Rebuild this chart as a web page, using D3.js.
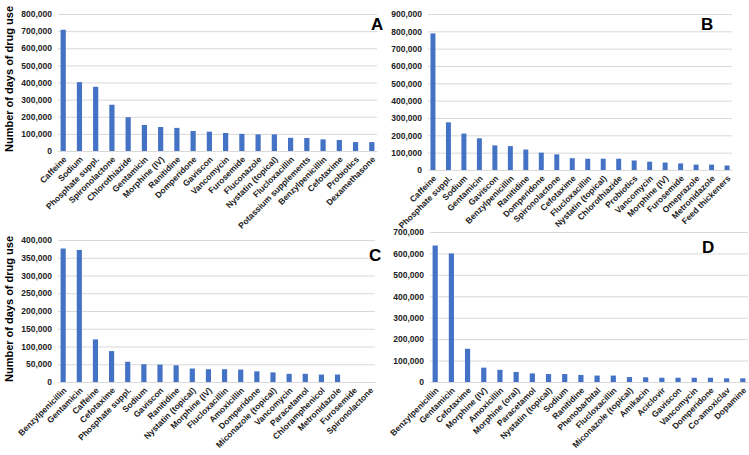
<!DOCTYPE html>
<html><head><meta charset="utf-8">
<script src="https://cdn.jsdelivr.net/npm/d3@7"></script>
<style>
body{margin:0;background:#fff;}
svg{display:block;font-family:"Liberation Sans",Arial,sans-serif;}
</style></head>
<body><svg id="c" width="749" height="455"></svg>
<script>
const catsA = ["Caffeine","Sodium","Phosphate suppl.","Spironolactone","Chlorothiazide","Gentamicin","Morphine (IV)","Ranitidine","Domperidone","Gaviscon","Vancomycin","Furosemide","Fluconazole","Nystatin (topical)","Flucloxacillin","Potassium supplements","Benzylpenicillin","Cefotaxime","Probiotics","Dexamethasone"];
const valsA = [708000,402000,375000,270000,197000,152000,140000,135000,117000,113000,105000,100000,97000,97000,77000,76000,68000,64000,52000,52000];
const ticksA = [0,100000,200000,300000,400000,500000,600000,700000,800000];

const catsB = ["Caffeine","Phosphate suppl.","Sodium","Gentamicin","Gaviscon","Benzylpenicillin","Ranitidine","Domperidone","Spironolactone","Cefotaxime","Flucloxacillin","Nystatin (topical)","Chlorothiazide","Probiotics","Vancomycin","Morphine (IV)","Furosemide","Omeprazole","Metronidazole","Feed thickeners"];
const valsB = [788000,275000,210000,183000,142000,138000,118000,100000,90000,68000,65000,65000,65000,55000,48000,43000,38000,31000,31000,26000];
const ticksB = [0,100000,200000,300000,400000,500000,600000,700000,800000,900000];

const catsC = ["Benzylpenicillin","Gentamicin","Caffeine","Cefotaxime","Phosphate suppl.","Sodium","Gaviscon","Ranitidine","Nystatin (topical)","Morphine (IV)","Flucloxacillin","Amoxicillin","Domperidone","Miconazole (topical)","Vancomycin","Paracetamol","Chloramphenicol","Metronidazole","Furosemide","Spironolactone"];
const valsC = [376000,372000,120000,87000,57000,50000,49000,47000,38000,36000,36000,35000,30000,27000,23000,23000,21000,21000,0,0];
const ticksC = [0,50000,100000,150000,200000,250000,300000,350000,400000];

const catsD = ["Benzylpenicillin","Gentamicin","Cefotaxime","Morphine (IV)","Amoxicillin","Morphine (oral)","Paracetamol","Nystatin (topical)","Sodium","Ranitidine","Phenobarbital","Flucloxacillin","Miconazole (topical)","Amikacin","Aciclovir","Gaviscon","Vancomycin","Domperidone","Co-amoxiclav","Dopamine"];
const valsD = [637000,600000,155000,67000,57000,47000,40000,37000,37000,33000,30000,30000,23000,22000,20000,20000,20000,20000,17000,17000];
const ticksD = [0,100000,200000,300000,400000,500000,600000,700000];

const svg = d3.select("#c");
const fmt = d3.format(",");
const barColor = "#4472C4";

function panel(cats, vals, ticks, x0, x1, yTop, yBot, letter, lx, ly) {
  const g = svg.append("g");
  const x = d3.scaleBand().domain(cats).range([x0, x1]).paddingInner(0.68).paddingOuter(0.16);
  const y = d3.scaleLinear().domain([0, ticks[ticks.length-1]]).range([yBot, yTop]);
  const yAxis = d3.axisLeft(y).tickValues(ticks).tickFormat(fmt).tickSize(-(x1 - x0)).tickPadding(6);
  const ga = g.append("g").attr("transform", `translate(${x0},0)`).call(yAxis);
  ga.select(".domain").remove();
  ga.selectAll(".tick line").attr("stroke", "#d9d9d9").attr("stroke-width", 1);
  ga.selectAll(".tick text").attr("font-size", "8.5px").attr("font-weight", "bold").attr("fill", "#222");
  g.selectAll("rect.bar").data(vals).enter().append("rect")
    .attr("class", "bar")
    .attr("x", (d, i) => x(cats[i]))
    .attr("width", x.bandwidth())
    .attr("y", d => y(d))
    .attr("height", d => y(0) - y(d))
    .attr("fill", barColor);
  const xAxis = d3.axisBottom(x).tickSize(0).tickPadding(0);
  const gx = g.append("g").attr("transform", `translate(0,${yBot})`).call(xAxis);
  gx.select(".domain").attr("stroke", "#d9d9d9");
  gx.selectAll(".tick text")
    .attr("font-size", "8.5px").attr("font-weight", "bold").attr("fill", "#222")
    .attr("text-anchor", "end")
    .attr("dy", null).attr("y", 0)
    .attr("transform", "translate(4,9) rotate(-45)");
  svg.append("text").attr("x", lx).attr("y", ly).attr("font-size", "17px").attr("font-weight", "bold")
    .attr("fill", "#000").text(letter);
}

panel(catsA, valsA, ticksA, 58, 377, 14, 151, "A", 371, 30);
panel(catsB, valsB, ticksB, 428, 732, 14, 170, "B", 701, 30);
panel(catsC, valsC, ticksC, 58, 375, 240, 382, "C", 369, 261);
panel(catsD, valsD, ticksD, 430, 748, 232, 382, "D", 702, 253);

function ytitle(cy) {
  svg.append("text").attr("transform", `translate(13,${cy}) rotate(-90)`)
    .attr("text-anchor", "middle").attr("font-size", "11px").attr("font-weight", "bold")
    .attr("fill", "#000").text("Number of days of drug use");
}
ytitle(79);
ytitle(309);
</script></body></html>
